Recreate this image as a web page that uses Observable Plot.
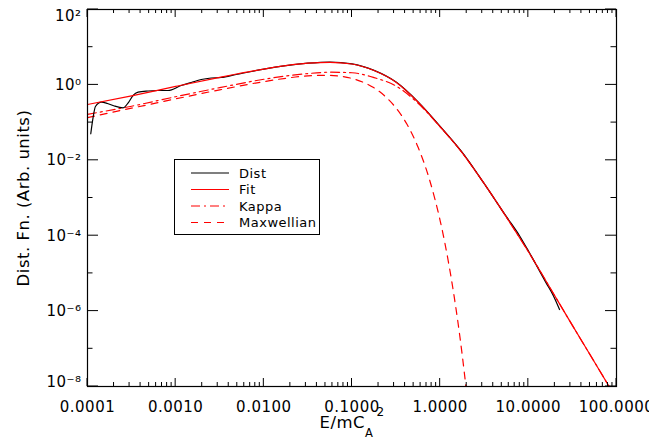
<!DOCTYPE html>
<html><head><meta charset="utf-8">
<script src="https://cdn.jsdelivr.net/npm/d3@7"></script>
<script src="https://cdn.jsdelivr.net/npm/@observablehq/plot@0.6"></script>
<style>
html,body{margin:0;padding:0;background:#fff;}
#wrap{position:relative;width:649px;height:440px;font-family:"DejaVu Sans",sans-serif;}
#legend{position:absolute;left:174px;top:159px;width:146px;height:76px;border:1px solid #000;background:#fff;box-sizing:border-box;}
svg text{letter-spacing:0.5px;}
</style></head><body><div id="wrap"></div>
<script>
// ---- axis ticks and labels ----
const xMajor = [1e-4, 1e-3, 1e-2, 1e-1, 1, 10, 100];
const xTickLabels = ["0.0001", "0.0010", "0.0100", "0.1000", "1.0000", "10.0000", "100.0000"];
const yMajor = [1e2, 1e0, 1e-2, 1e-4, 1e-6, 1e-8];
const yTickLabels = ["10²", "10⁰", "10⁻²", "10⁻⁴", "10⁻⁶", "10⁻⁸"];
const yMinor = [1e1, 1e-1, 1e-3, 1e-5, 1e-7];
const xTitleParts = ["E/mC", "A", "2"];
const yTitle = "Dist. Fn. (Arb. units)";

// ---- series ----
const fitEnergy = [1e-4, 3.16e-4, 1e-3, 3.16e-3, 1e-2, 1.78e-2, 3.16e-2, 5.62e-2, 0.1, 0.178, 0.316, 0.562, 1, 1.78, 3.16, 5.62, 10, 17.8, 31.6, 56.2, 89.1];
const fitValues = [0.302, 0.513, 0.912, 1.585, 2.63, 3.24, 3.76, 3.98, 3.59, 2.40, 1.175, 0.347, 0.0776, 0.0158, 2.40e-3, 3.16e-4, 3.80e-5, 3.98e-6, 4.17e-7, 4.47e-8, 7.41e-9];
const kappaValues = [0.166, 0.272, 0.486, 0.846, 1.41, 1.72, 2.00, 2.17, 2.10, 1.56, 0.932, 0.325, 0.0774, 0.0158, 2.40e-3, 3.16e-4, 3.80e-5, 3.98e-6, 4.17e-7, 4.47e-8, 7.41e-9];

const maxEnergy = [1e-4, 3.16e-4, 1e-3, 3.16e-3, 1e-2, 1.78e-2, 3.16e-2, 5.62e-2, 7.5e-2, 0.1, 0.133, 0.178, 0.237, 0.316, 0.422, 0.562, 0.75, 1, 1.122, 1.259, 1.413, 1.585, 1.778, 1.995];
const maxValues = [0.136, 0.241, 0.426, 0.739, 1.22, 1.50, 1.74, 1.80, 1.69, 1.48, 1.18, 0.835, 0.500, 0.243, 0.0887, 0.0221, 3.30e-3, 2.49e-4, 7.0e-5, 1.66e-5, 3.3e-6, 5.37e-7, 6.92e-8, 6.76e-9];

const distEnergy = [1.089e-4, 1.159e-4, 1.230e-4, 1.439e-4, 1.683e-4, 2.018e-4, 2.535e-4, 2.911e-4, 3.289e-4, 3.750e-4, 4.864e-4, 6.310e-4, 8.185e-4, 1.156e-3, 1.500e-3, 1.950e-3, 2.529e-3, 3.281e-3, 4.853e-3, 0.01, 0.0178, 0.0316, 0.0562, 0.1, 0.178, 0.316, 0.562, 1, 1.78, 3.16, 5.62, 7.94, 10, 12.6, 15.8, 19.1, 22.6];
const distValues = [0.0505, 0.139, 0.267, 0.348, 0.321, 0.275, 0.247, 0.341, 0.524, 0.640, 0.689, 0.710, 0.710, 0.964, 1.159, 1.390, 1.524, 1.570, 1.888, 2.63, 3.24, 3.76, 4.03, 3.63, 2.43, 1.19, 0.355, 0.0794, 0.0162, 2.40e-3, 3.24e-4, 1.0e-4, 3.98e-5, 1.51e-5, 5.75e-6, 2.63e-6, 1.10e-6];

// ---- legend ----
const legendNames = ["Dist", "Fit", "Kappa", "Maxwellian"];
const legendColors = ["#000000", "#ff0000", "#ff0000", "#ff0000"];
const legendDashes = [null, null, "9,4,2,4", "7,6"];

const toRows = (xs, ys) => xs.map((e, i) => ({e, f: ys[i]}));
const fitData = toRows(fitEnergy, fitValues);
const kappaData = toRows(fitEnergy, kappaValues);
const maxData = toRows(maxEnergy, maxValues);
const distData = toRows(distEnergy, distValues);

const xMinor = [];
for (const d of xMajor.slice(0, -1)) for (let k = 2; k <= 9; k++) xMinor.push(d * k);
const yMid = yMajor.slice(1, -1);
const yLab = d => yTickLabels[yMajor.indexOf(d)];
const xLab = d => xTickLabels[xMajor.indexOf(d)];

// layout
const W = 649, H = 440, mL = 87, mR = 33, mT = 9, mB = 54;
const tkX = 8, tkY = 11; // tick lengths (px)

const lineOpts = {x: "e", y: "f", curve: "monotone-x", clip: true, strokeWidth: 1.2};

const chart = Plot.plot({
  width: W, height: H,
  marginLeft: mL, marginRight: mR, marginTop: mT, marginBottom: mB,
  style: {fontFamily: "'DejaVu Sans', sans-serif", fontSize: "15px", color: "#000", background: "#fff"},
  x: {type: "log", domain: [1e-4, 100], axis: null},
  y: {type: "log", domain: [1e-8, 100], axis: null},
  marks: [
    Plot.line(maxData, {...lineOpts, stroke: "#ff0000", strokeDasharray: legendDashes[3]}),
    Plot.line(kappaData, {...lineOpts, stroke: "#ff0000", strokeDasharray: legendDashes[2]}),
    Plot.line(distData, {...lineOpts, stroke: "#000000"}),
    Plot.line(fitData, {...lineOpts, stroke: "#ff0000"}),
    Plot.frame({stroke: "#000", strokeWidth: 1.2}),
    // tick labels
    Plot.text(xMajor, {x: d => d, frameAnchor: "bottom", dy: 15, lineAnchor: "top", textAnchor: "middle", text: xLab, fontSize: 15}),
    Plot.text(yMid, {y: d => d, frameAnchor: "left", dx: -6, textAnchor: "end", lineAnchor: "middle", text: yLab, fontSize: 15}),
    Plot.text([yMajor[0]], {y: d => d, frameAnchor: "left", dx: -6, dy: 7, textAnchor: "end", lineAnchor: "middle", text: yLab, fontSize: 15}),
    Plot.text([yMajor[yMajor.length - 1]], {y: d => d, frameAnchor: "left", dx: -6, dy: -4, textAnchor: "end", lineAnchor: "middle", text: yLab, fontSize: 15}),
    // titles
    Plot.text([yTitle], {frameAnchor: "left", dx: -64, rotate: -90, textAnchor: "middle", lineAnchor: "middle", text: d => d, fontSize: 16.5}),
    Plot.text([xTitleParts[0]], {frameAnchor: "bottom", dy: 36, textAnchor: "middle", lineAnchor: "middle", text: d => d, fontSize: 16.5})
  ]
});

// add subscript / superscript to the x title
d3.select(chart).selectAll("text").filter(function () { return this.textContent === xTitleParts[0]; }).each(function () {
  const t = d3.select(this);
  t.text(null);
  t.append("tspan").text(xTitleParts[0]);
  t.append("tspan").attr("font-size", 11.5).attr("dy", 9).text(xTitleParts[1]);
  t.append("tspan").attr("font-size", 12).attr("dx", 3).attr("dy", -21).text(xTitleParts[2]);
});

// inward ticks on all four sides, positioned through Plot's scales
const sx = chart.scale("x"), sy = chart.scale("y");
const gt = d3.select(chart).append("g").attr("stroke", "#000").attr("stroke-width", 1);
const x0 = mL, x1 = W - mR, y0 = mT, y1 = H - mB;
function tick(ax, ay, bx, by) {
  gt.append("line").attr("x1", ax).attr("y1", ay).attr("x2", bx).attr("y2", by);
}
xMajor.forEach(v => { const px = sx.apply(v); tick(px, y1, px, y1 - tkX); tick(px, y0, px, y0 + tkX); });
xMinor.forEach(v => { const px = sx.apply(v); tick(px, y1, px, y1 - tkX / 2); tick(px, y0, px, y0 + tkX / 2); });
yMajor.forEach(v => { const py = sy.apply(v); tick(x0, py, x0 + tkY, py); tick(x1, py, x1 - tkY, py); });
yMinor.forEach(v => { const py = sy.apply(v); tick(x0, py, x0 + tkY / 2, py); tick(x1, py, x1 - tkY / 2, py); });

const wrap = document.getElementById("wrap");
wrap.appendChild(chart);

// legend box
const leg = d3.select(wrap).append("div").attr("id", "legend");
const lsvg = leg.append("svg").attr("width", 144).attr("height", 74);
const rowY = [13, 29.5, 46, 62.5];
legendNames.forEach((name, i) => {
  lsvg.append("line").attr("x1", 16).attr("x2", 54).attr("y1", rowY[i]).attr("y2", rowY[i])
    .attr("stroke", legendColors[i]).attr("stroke-width", 1.2)
    .attr("stroke-dasharray", legendDashes[i]);
  lsvg.append("text").attr("x", 64).attr("y", rowY[i]).attr("dy", "0.35em")
    .attr("font-family", "'DejaVu Sans', sans-serif").attr("font-size", 13).text(name);
});
</script></body></html>
